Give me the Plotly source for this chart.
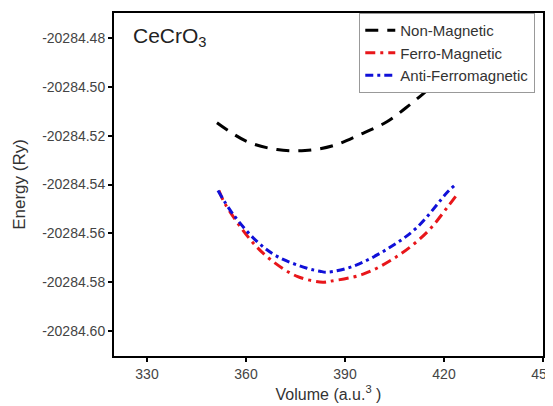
import plotly.graph_objects as go

# Volume (a.u.^3) and energy (Ry)
nm_volume = [351.2, 360.3, 369.4, 377.9, 386.4, 394.5, 402.7, 409.7, 415.8, 424.0]
nm_energy = [-20284.5147, -20284.5224, -20284.5257, -20284.5261, -20284.5241,
             -20284.5196, -20284.5143, -20284.5073, -20284.5004, -20284.4910]

fm_volume = [351.8, 353.6, 361.2, 367.3, 375.5, 383.3, 385.5, 395.5, 405.8, 414.8, 421.2, 424.0]
fm_energy = [-20284.5425, -20284.5478, -20284.5624, -20284.5706, -20284.5776, -20284.5800,
             -20284.5796, -20284.5767, -20284.5694, -20284.5596, -20284.5490, -20284.5440]

afm_volume = [351.5, 356.1, 363.3, 369.4, 378.5, 382.4, 384.5, 392.4, 402.7, 411.8, 421.2, 423.5]
afm_energy = [-20284.5425, -20284.5522, -20284.5633, -20284.5694, -20284.5743, -20284.5755,
              -20284.5759, -20284.5735, -20284.5665, -20284.5576, -20284.5429, -20284.5400]

x_ticks = [330, 360, 390, 420, 450]
y_ticks = [-20284.60, -20284.58, -20284.56, -20284.54, -20284.52, -20284.50, -20284.48]
y_tick_labels = ["-20284.60", "-20284.58", "-20284.56", "-20284.54", "-20284.52",
                 "-20284.50", "-20284.48"]

fig = go.Figure()
fig.add_trace(go.Scatter(x=nm_volume, y=nm_energy, mode="lines", name="Non-Magnetic",
                         line=dict(color="black", width=3, dash="13px,9px", shape="spline")))
fig.add_trace(go.Scatter(x=fm_volume, y=fm_energy, mode="lines", name="Ferro-Magnetic",
                         line=dict(color="#e8161a", width=3, dash="10px,5px,3px,5px", shape="spline")))
fig.add_trace(go.Scatter(x=afm_volume, y=afm_energy, mode="lines", name="Anti-Ferromagnetic",
                         line=dict(color="#1010d8", width=3, dash="8px,4px,3px,4px", shape="spline")))

fig.update_layout(
    width=545, height=398,
    margin=dict(l=106, r=10, t=5, b=50),
    paper_bgcolor="white", plot_bgcolor="white",
    font=dict(family="Liberation Sans, Arial, sans-serif", color="#333333", size=14),
    showlegend=True,
    legend=dict(x=0.982, y=1, xanchor="right", yanchor="top",
                bgcolor="white", bordercolor="#999999", borderwidth=1,
                font=dict(size=15, color="#333333"),
                tracegroupgap=0),
    xaxis=dict(range=[320, 450], tickvals=x_ticks, ticks="outside", ticklen=4,
               tickwidth=2, tickcolor="black", showline=True, linecolor="black",
               linewidth=2, mirror=True, showgrid=False, zeroline=False, automargin=False,
               ticklabeloverflow="allow",
               tickfont=dict(size=14, color="#444444"),
               title=dict(text="Volume (a.u.<sup>3</sup> )", font=dict(size=16, color="#333333"),
                          standoff=8)),
    yaxis=dict(range=[-20284.6102, -20284.4698], tickvals=y_ticks, ticktext=y_tick_labels,
               ticks="outside", ticklen=4, tickwidth=2, tickcolor="black",
               showline=True, linecolor="black", linewidth=2, mirror=True,
               showgrid=False, zeroline=False, automargin=False,
               tickfont=dict(size=14, color="#444444"),
               title=dict(text="Energy (Ry)", font=dict(size=17, color="#333333"), standoff=12)),
)

fig.add_annotation(x=0.04, y=0.93, xref="paper", yref="paper", xanchor="left", yanchor="middle",
                   text="CeCrO<sub>3</sub>", showarrow=False,
                   font=dict(size=21, color="#222222"))

fig.write_html("out.html")
